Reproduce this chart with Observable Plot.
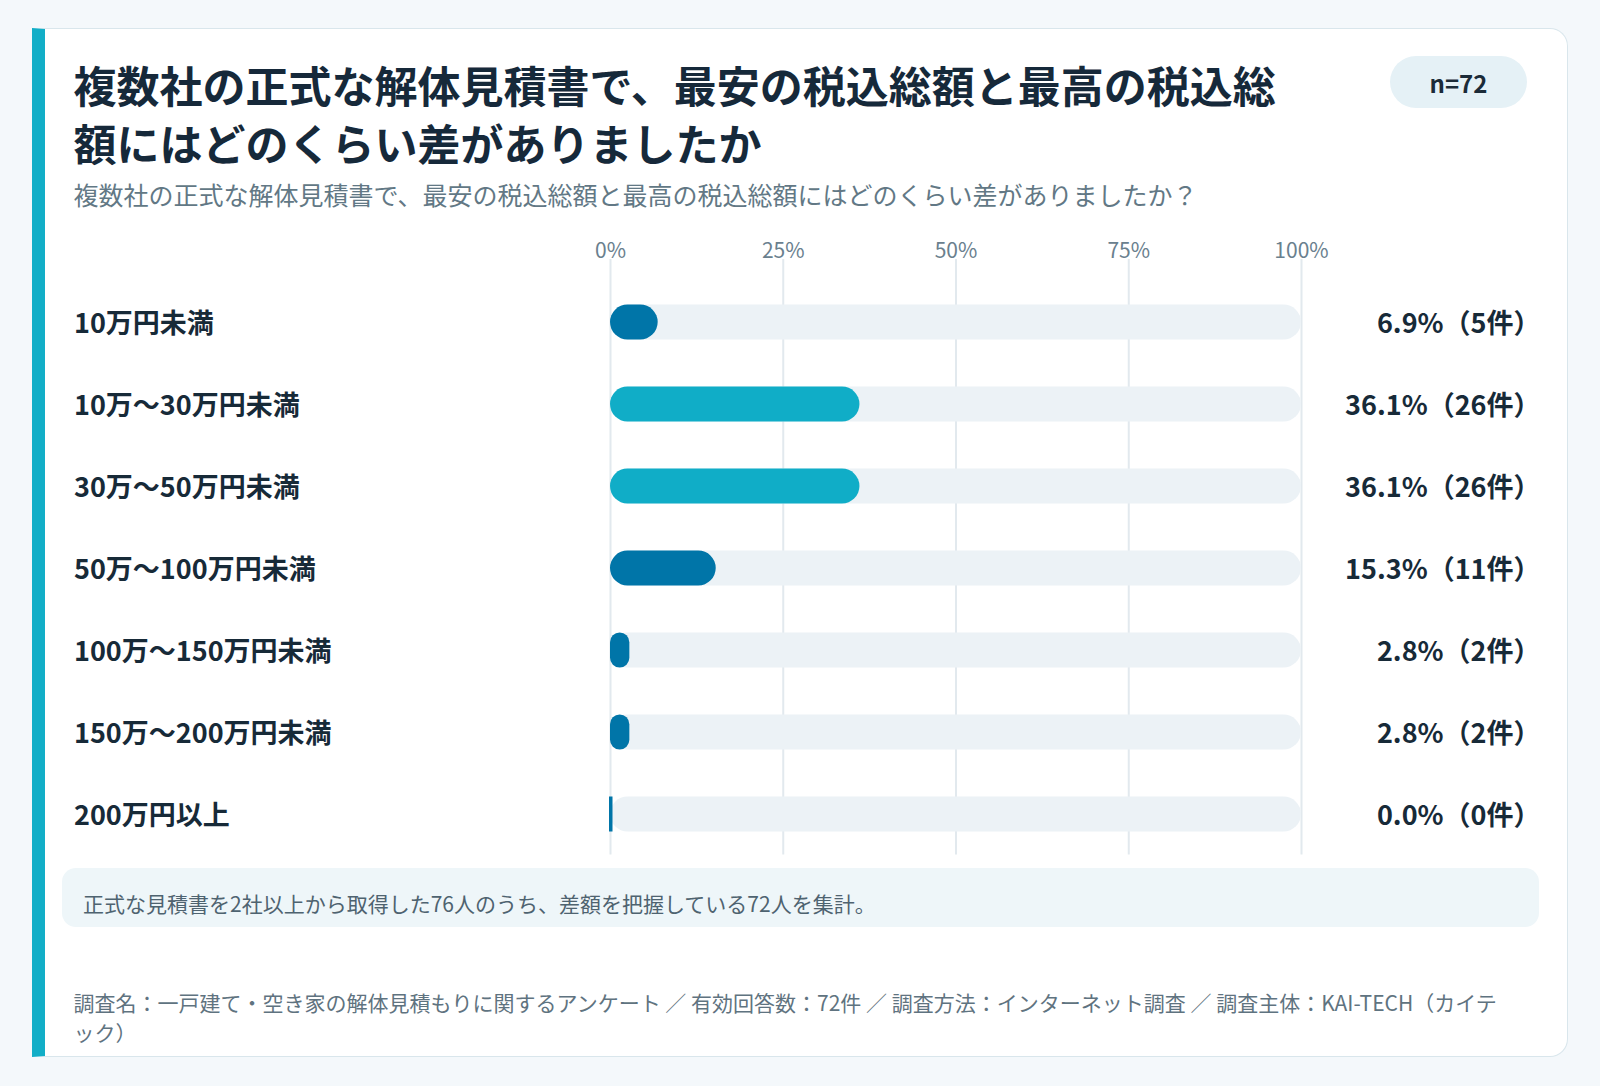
<!DOCTYPE html>
<html lang="ja">
<head>
<meta charset="utf-8">
<script src="https://cdn.jsdelivr.net/npm/d3@7"></script>
<script src="https://cdn.jsdelivr.net/npm/@observablehq/plot@0.6"></script>
<style>
  html, body { margin:0; padding:0; }
  body { width:1600px; height:1086px; background:#F4F8FB; position:relative; overflow:hidden;
         font-family:"Noto Sans CJK JP","Noto Sans",sans-serif; }
  .card { position:absolute; left:32px; top:28px; width:1536px; height:1029px; box-sizing:border-box;
          background:#fff; border:1.5px solid #D9E6EC; border-left:13px solid #12AEC7;
          border-radius:0 18px 18px 0; }
  .title { position:absolute; left:73.5px; top:54.5px; width:1225px; font-size:43px; line-height:58px;
           font-weight:700; color:#16293A; margin:0; }
  .subtitle { position:absolute; left:73.5px; top:176.5px; font-size:25px; line-height:34px; color:#627885; white-space:nowrap; }
  .badge { position:absolute; left:1390px; top:56px; width:137px; height:52px; border-radius:26px; background:#E5F1F6;
           display:flex; align-items:center; justify-content:center; font-size:24px; font-weight:700; color:#1B2B38; }
  .note { position:absolute; left:62px; top:868px; width:1477px; height:59px; border-radius:14px; background:#EEF6F9; }
  .notetext { position:absolute; left:83px; top:888px; font-size:21px; line-height:30px; color:#4E6370; white-space:nowrap; }
  .footer { position:absolute; left:73.5px; top:987px; width:1432px; font-size:21px; line-height:30px; color:#5F7380; }
  #chart { position:absolute; left:0; top:0; }
</style>
</head>
<body>
<div class="card"></div>
<div class="title" id="title"></div>
<div class="subtitle" id="subtitle"></div>
<div class="badge" id="badge"></div>
<div id="chart"></div>
<div class="note"></div>
<div class="notetext" id="note"></div>
<div class="footer" id="footer"></div>
<script>
const titleText = "複数社の正式な解体見積書で、最安の税込総額と最高の税込総額にはどのくらい差がありましたか";
const subtitleText = "複数社の正式な解体見積書で、最安の税込総額と最高の税込総額にはどのくらい差がありましたか？";
const badgeText = "n=72";
const noteText = "正式な見積書を2社以上から取得した76人のうち、差額を把握している72人を集計。";
const footerText = "調査名：一戸建て・空き家の解体見積もりに関するアンケート ／ 有効回答数：72件 ／ 調査方法：インターネット調査 ／ 調査主体：KAI-TECH（カイテック）";

const categories = ["10万円未満","10万〜30万円未満","30万〜50万円未満","50万〜100万円未満","100万〜150万円未満","150万〜200万円未満","200万円以上"];
const percents = [6.9, 36.1, 36.1, 15.3, 2.8, 2.8, 0.0];
const counts = [5, 26, 26, 11, 2, 2, 0];
const xTicks = [0, 25, 50, 75, 100];

document.getElementById("title").textContent = titleText;
document.getElementById("subtitle").textContent = subtitleText;
document.getElementById("badge").textContent = badgeText;
document.getElementById("note").textContent = noteText;
document.getElementById("footer").textContent = footerText;

const rows = categories.map((c, i) => ({category: c, pct: percents[i], count: counts[i]}));
const maxPct = d3.max(percents);
const BLUE = "#0075A8", CYAN = "#10ADC7";
const inset = 23.5;
const font = "'Noto Sans CJK JP','Noto Sans',sans-serif";

const plot = Plot.plot({
  width: 1600,
  height: 870,
  marginLeft: 610,
  marginRight: 299,
  marginTop: 280.5,
  marginBottom: 15.5,
  style: {fontFamily: font, background: "transparent", overflow: "visible"},
  x: {domain: [0, 100], axis: null},
  y: {domain: categories, axis: null, padding: 0},
  marks: [
    Plot.ruleX(xTicks, {stroke: "#E2E9EE", strokeWidth: 2, insetTop: -21.5}),
    Plot.axisX(xTicks, {anchor: "top", tickSize: 0, tickPadding: 23, tickFormat: d => d + "%",
      fontSize: 21, fill: "#6A808E", label: null}),
    Plot.barX(rows, {y: "category", x1: 0, x2: d => 100, fill: "#ECF2F6",
      insetTop: inset, insetBottom: inset, r: 17.5}),
    Plot.barX(rows.filter(d => d.pct > 0), {y: "category", x1: 0, x2: "pct",
      fill: d => d.pct === maxPct ? CYAN : BLUE, insetTop: inset, insetBottom: inset, r: 17.5}),
    Plot.barX(rows.filter(d => d.pct === 0), {y: "category", x1: 0, x2: "pct", fill: BLUE,
      insetTop: inset, insetBottom: inset, insetLeft: -1, insetRight: -2.5}),
    Plot.text(rows, {y: "category", frameAnchor: "left", dx: -536.5, dy: 2, text: "category",
      textAnchor: "start", fontSize: 27, fontWeight: 700, fill: "#172A38"}),
    Plot.text(rows, {y: "category", frameAnchor: "right", dx: 239, dy: 2,
      text: d => `${d.pct.toFixed(1)}%（${d.count}件）`,
      textAnchor: "end", fontSize: 27, fontWeight: 700, fill: "#172A38"})
  ]
});
document.getElementById("chart").appendChild(plot);
</script>
</body>
</html>
